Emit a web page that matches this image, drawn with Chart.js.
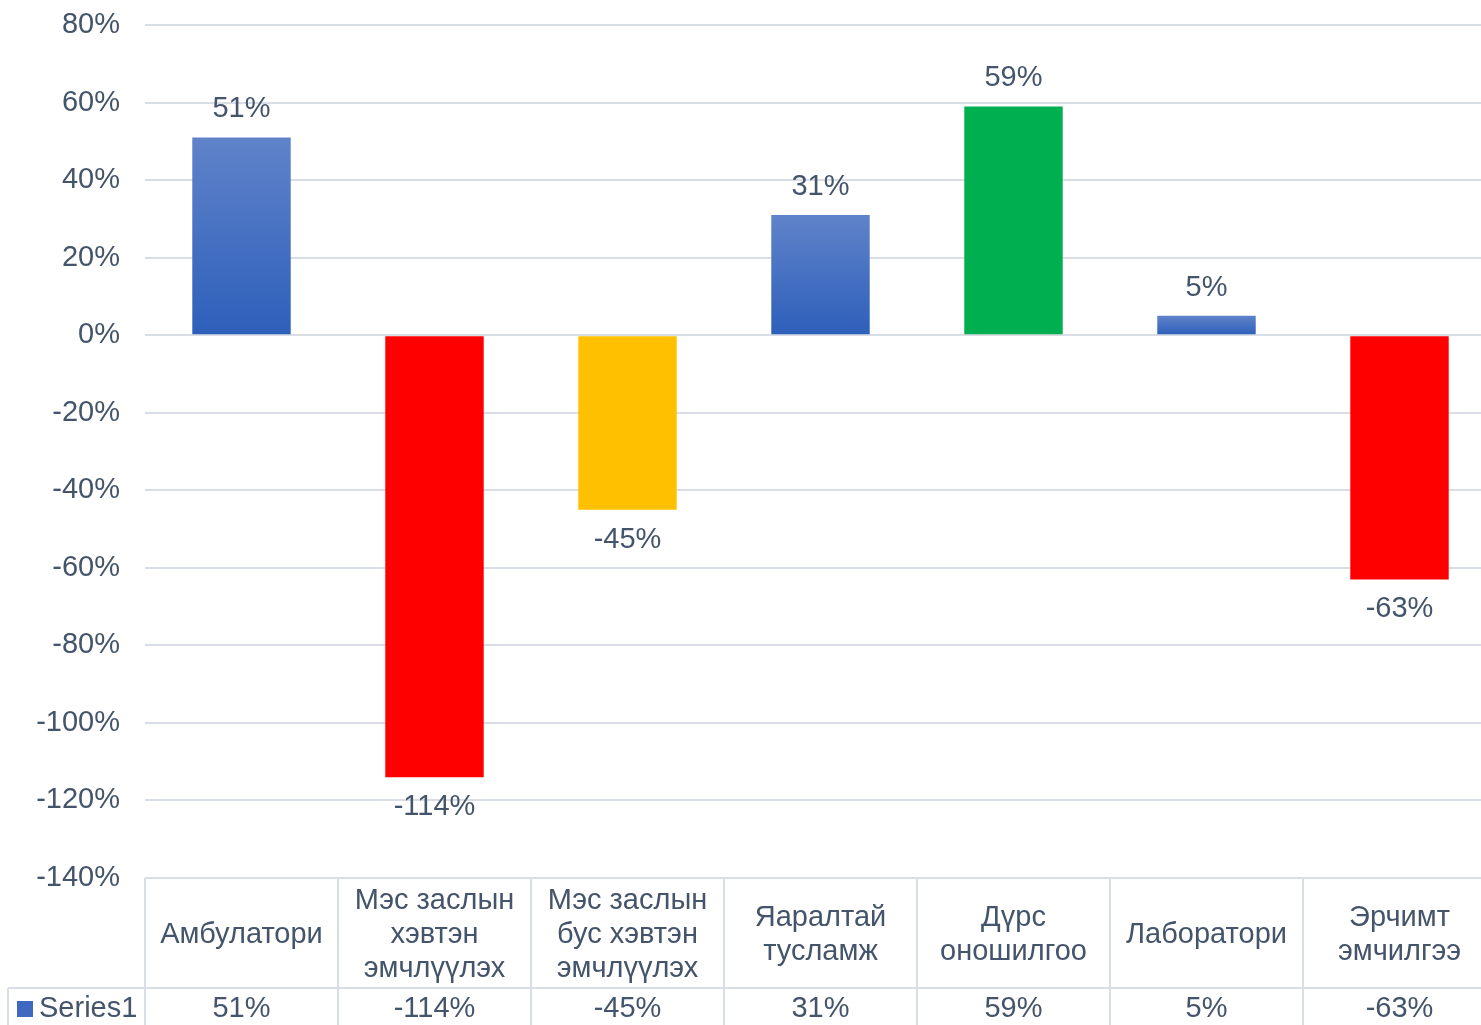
<!DOCTYPE html>
<html>
<head>
<meta charset="utf-8">
<script src="https://cdn.jsdelivr.net/npm/chart.js@4/dist/chart.umd.min.js"></script>
<style>
  html, body { margin: 0; padding: 0; background: #fff; overflow: hidden; width: 1481px; height: 1025px; }
  canvas { display: block; }
</style>
</head>
<body>
<canvas id="chart" width="1496" height="1025"></canvas>
<script>
// data
const categories = [
    ['Амбулатори'],
    ['Мэс заслын', 'хэвтэн', 'эмчлүүлэх'],
    ['Мэс заслын', 'бус хэвтэн', 'эмчлүүлэх'],
    ['Яаралтай', 'тусламж'],
    ['Дүрс', 'оношилгоо'],
    ['Лаборатори'],
    ['Эрчимт', 'эмчилгээ']
];
const seriesName = 'Series1';
const values = [51, -114, -45, 31, 59, 5, -63];
const barColors = ['blue', '#FF0000', '#FFC000', 'blue', '#00B050', 'blue', '#FF0000'];
const yMin = -140, yMax = 80, yStep = 20;

const textColor = '#44546A';
const gridColor = '#D9DEE6';
const fontFamily = '"Liberation Sans", Arial, sans-serif';
const fontSize = 29;

// the plot area of the original runs a little past the right edge
function barFill(ctx) {
    const c = barColors[ctx.dataIndex];
    if (c !== 'blue') return c;
    const area = ctx.chart.chartArea;
    if (!area) return '#4472C4';
    const y = ctx.chart.scales.y;
    const top = y.getPixelForValue(values[ctx.dataIndex]);
    const base = y.getPixelForValue(0);
    const g = ctx.chart.ctx.createLinearGradient(0, top, 0, base);
    g.addColorStop(0, '#6083CA');
    g.addColorStop(1, '#2D5FBA');
    return g;
}

const labelPlugin = {
    id: 'valueLabels',
    afterDatasetsDraw(chart) {
        const ctx = chart.ctx;
        const meta = chart.getDatasetMeta(0);
        ctx.save();
        ctx.font = fontSize + 'px ' + fontFamily;
        ctx.fillStyle = textColor;
        ctx.textAlign = 'center';
        ctx.textBaseline = 'middle';
        meta.data.forEach((bar, i) => {
            const v = values[i];
            const y = v >= 0 ? bar.y - 28 : bar.y + 30;
            ctx.fillText(v + '%', bar.x, y);
        });
        ctx.restore();
    }
};

const tablePlugin = {
    id: 'dataTable',
    afterDraw(chart) {
        const ctx = chart.ctx;
        const x = chart.scales.x;
        const area = chart.chartArea;
        const colW = x.width / categories.length;
        const top = area.bottom;
        const mid = top + 110;
        const bottom = chart.height;
        ctx.save();
        ctx.strokeStyle = gridColor;
        ctx.lineWidth = 2;
        ctx.beginPath();
        ctx.moveTo(area.left, top); ctx.lineTo(area.right, top);
        ctx.moveTo(8, mid); ctx.lineTo(area.right, mid);
        ctx.moveTo(8, mid); ctx.lineTo(8, bottom);
        for (let i = 0; i <= categories.length; i++) {
            const lx = Math.round(area.left + i * colW);
            ctx.moveTo(lx, top); ctx.lineTo(lx, bottom);
        }
        ctx.stroke();

        ctx.font = fontSize + 'px ' + fontFamily;
        ctx.fillStyle = textColor;
        ctx.textAlign = 'center';
        ctx.textBaseline = 'middle';
        const lh = 34;
        categories.forEach((lines, i) => {
            const cx = x.getPixelForValue(i);
            const y0 = top + 57 - (lines.length - 1) * lh / 2;
            lines.forEach((t, j) => ctx.fillText(t, cx, y0 + j * lh));
            ctx.fillText(values[i] + '%', cx, mid + 21);
        });

        ctx.fillStyle = '#3F68C0';
        ctx.fillRect(17, 1001, 16, 16);
        ctx.fillStyle = textColor;
        ctx.textAlign = 'left';
        ctx.fillText(seriesName, 39, mid + 21);
        ctx.restore();
    }
};

new Chart(document.getElementById('chart'), {
    type: 'bar',
    data: {
        labels: categories.map(c => c.join(' ')),
        datasets: [{
            label: seriesName,
            data: values,
            backgroundColor: barFill,
            barPercentage: 1,
            categoryPercentage: 0.51
        }]
    },
    options: {
        responsive: false,
        animation: false,
        layout: { padding: { top: 25, right: 0, bottom: 147, left: 0 } },
        plugins: { legend: { display: false }, tooltip: { enabled: false } },
        scales: {
            x: { display: false },
            y: {
                min: yMin, max: yMax,
                afterFit(scale) {
                    scale.width = 145;
                    scale.paddingTop = 0;
                    scale.paddingBottom = 0;
                },
                border: { display: false },
                grid: { color: gridColor, lineWidth: 2, drawTicks: false },
                ticks: {
                    stepSize: yStep,
                    padding: 25,
                    color: textColor,
                    font: { size: fontSize, family: fontFamily },
                    callback: v => v + '%'
                }
            }
        }
    },
    plugins: [labelPlugin, tablePlugin]
});
</script>
</body>
</html>
